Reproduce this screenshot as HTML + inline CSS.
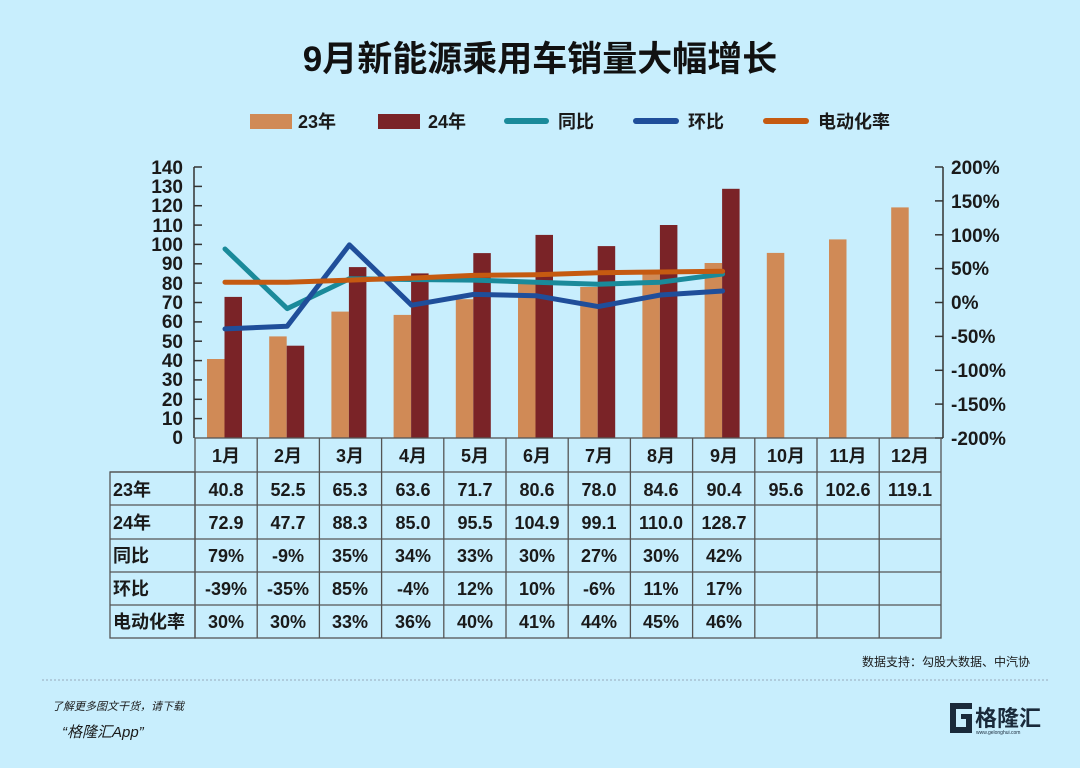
<!DOCTYPE html>
<html><head><meta charset="utf-8"><style>
html,body{margin:0;padding:0;background:#c8eefd;}
svg{display:block;}
text{font-family:"Liberation Sans","Noto Sans CJK SC",sans-serif;fill:#1a1a1a;}
.t{font-weight:bold;font-size:18px;}
</style></head><body>
<svg width="1080" height="768" viewBox="0 0 1080 768">
<rect width="1080" height="768" fill="#c8eefd"/>
<text x="540" y="71" text-anchor="middle" font-size="35" font-weight="bold" style="fill:#111">9月新能源乘用车销量大幅增长</text>
<rect x="250" y="114" width="42" height="15" fill="#d08a56"/><text x="298" y="128" class="t" font-size="19">23年</text>
<rect x="378" y="114" width="42" height="15" fill="#7a2327"/><text x="428" y="128" class="t" font-size="19">24年</text>
<line x1="507" y1="121" x2="546" y2="121" stroke="#1a8a9a" stroke-width="6" stroke-linecap="round"/><text x="558" y="128" class="t" font-size="19">同比</text>
<line x1="636" y1="121" x2="676" y2="121" stroke="#1f4e9a" stroke-width="6" stroke-linecap="round"/><text x="688" y="128" class="t" font-size="19">环比</text>
<line x1="766" y1="121" x2="806" y2="121" stroke="#c55a11" stroke-width="6" stroke-linecap="round"/><text x="818" y="128" class="t" font-size="19">电动化率</text>
<g fill="#d08a56">
<rect x="207" y="359" width="17.5" height="79"/><rect x="269.2" y="336.4" width="17.5" height="101.6"/><rect x="331.4" y="311.6" width="17.5" height="126.4"/><rect x="393.6" y="314.9" width="17.5" height="123.1"/><rect x="455.8" y="299.2" width="17.5" height="138.8"/><rect x="518" y="282" width="17.5" height="156"/><rect x="580.2" y="287" width="17.5" height="151"/><rect x="642.4" y="274.2" width="17.5" height="163.8"/><rect x="704.6" y="263" width="17.5" height="175"/><rect x="766.8" y="252.9" width="17.5" height="185.1"/><rect x="829" y="239.4" width="17.5" height="198.6"/><rect x="891.2" y="207.4" width="17.5" height="230.6"/>
</g>
<g fill="#7a2327">
<rect x="224.5" y="296.9" width="17.5" height="141.1"/><rect x="286.7" y="345.7" width="17.5" height="92.3"/><rect x="348.9" y="267.1" width="17.5" height="170.9"/><rect x="411.1" y="273.4" width="17.5" height="164.6"/><rect x="473.3" y="253.1" width="17.5" height="184.9"/><rect x="535.5" y="234.9" width="17.5" height="203.1"/><rect x="597.7" y="246.1" width="17.5" height="191.9"/><rect x="659.9" y="225" width="17.5" height="213"/><rect x="722.1" y="188.8" width="17.5" height="249.2"/>
</g>
<g fill="none" stroke-width="5" stroke-linejoin="round" stroke-linecap="round">
<polyline stroke="#1a8a9a" points="225,249 287.2,308.6 349.4,278.8 411.6,279.5 473.8,280.1 536,282.2 598.2,284.2 660.4,282.2 722.6,274"/>
<polyline stroke="#1f4e9a" points="225,328.9 287.2,326.2 349.4,244.9 411.6,305.2 473.8,294.4 536,295.7 598.2,306.6 660.4,295 722.6,291"/>
<polyline stroke="#c55a11" points="225,282.2 287.2,282.2 349.4,280.1 411.6,278.1 473.8,275.4 536,274.7 598.2,272.7 660.4,272 722.6,271.3"/>
</g>
<g stroke="#333" stroke-width="1.5">
<line x1="194" y1="167" x2="194" y2="438"/>
<line x1="194" y1="167" x2="202" y2="167"/><line x1="194" y1="186.4" x2="202" y2="186.4"/><line x1="194" y1="205.7" x2="202" y2="205.7"/><line x1="194" y1="225.1" x2="202" y2="225.1"/><line x1="194" y1="244.4" x2="202" y2="244.4"/><line x1="194" y1="263.8" x2="202" y2="263.8"/><line x1="194" y1="283.1" x2="202" y2="283.1"/><line x1="194" y1="302.5" x2="202" y2="302.5"/><line x1="194" y1="321.9" x2="202" y2="321.9"/><line x1="194" y1="341.2" x2="202" y2="341.2"/><line x1="194" y1="360.6" x2="202" y2="360.6"/><line x1="194" y1="379.9" x2="202" y2="379.9"/><line x1="194" y1="399.3" x2="202" y2="399.3"/><line x1="194" y1="418.6" x2="202" y2="418.6"/>
<line x1="943" y1="167" x2="943" y2="438"/>
<line x1="943" y1="167" x2="935" y2="167"/><line x1="943" y1="200.9" x2="935" y2="200.9"/><line x1="943" y1="234.8" x2="935" y2="234.8"/><line x1="943" y1="268.6" x2="935" y2="268.6"/><line x1="943" y1="302.5" x2="935" y2="302.5"/><line x1="943" y1="336.4" x2="935" y2="336.4"/><line x1="943" y1="370.3" x2="935" y2="370.3"/><line x1="943" y1="404.1" x2="935" y2="404.1"/><line x1="943" y1="438" x2="935" y2="438"/>
</g>
<g font-size="19" text-anchor="end" font-weight="bold">
<text x="183" y="174">140</text><text x="183" y="193">130</text><text x="183" y="212">120</text><text x="183" y="232">110</text><text x="183" y="251">100</text><text x="183" y="270">90</text><text x="183" y="290">80</text><text x="183" y="309">70</text><text x="183" y="328">60</text><text x="183" y="348">50</text><text x="183" y="367">40</text><text x="183" y="386">30</text><text x="183" y="406">20</text><text x="183" y="425">10</text><text x="183" y="444">0</text>
</g>
<g font-size="19" font-weight="bold">
<text x="951" y="174">200%</text><text x="951" y="208">150%</text><text x="951" y="242">100%</text><text x="951" y="275">50%</text><text x="951" y="309">0%</text><text x="951" y="343">-50%</text><text x="951" y="377">-100%</text><text x="951" y="411">-150%</text><text x="951" y="445">-200%</text>
</g>
<g stroke="#555" stroke-width="1.3" fill="none">
<rect x="195" y="438" width="746" height="200"/>
<rect x="110" y="472" width="85" height="166"/>
<line x1="110" y1="472" x2="941" y2="472"/><line x1="110" y1="505" x2="941" y2="505"/><line x1="110" y1="539" x2="941" y2="539"/><line x1="110" y1="572" x2="941" y2="572"/><line x1="110" y1="605" x2="941" y2="605"/>
<line x1="257.2" y1="438" x2="257.2" y2="638"/><line x1="319.4" y1="438" x2="319.4" y2="638"/><line x1="381.6" y1="438" x2="381.6" y2="638"/><line x1="443.8" y1="438" x2="443.8" y2="638"/><line x1="506" y1="438" x2="506" y2="638"/><line x1="568.2" y1="438" x2="568.2" y2="638"/><line x1="630.4" y1="438" x2="630.4" y2="638"/><line x1="692.6" y1="438" x2="692.6" y2="638"/><line x1="754.8" y1="438" x2="754.8" y2="638"/><line x1="817" y1="438" x2="817" y2="638"/><line x1="879.2" y1="438" x2="879.2" y2="638"/>
</g>
<g font-size="18" font-weight="bold">
<text x="113" y="496">23年</text><text x="113" y="529">24年</text><text x="113" y="562">同比</text><text x="113" y="595">环比</text><text x="113" y="628">电动化率</text>
</g>
<g font-size="18" text-anchor="middle" font-weight="bold">
<text x="226" y="462">1月</text><text x="288" y="462">2月</text><text x="350" y="462">3月</text><text x="413" y="462">4月</text><text x="475" y="462">5月</text><text x="537" y="462">6月</text><text x="599" y="462">7月</text><text x="661" y="462">8月</text><text x="724" y="462">9月</text><text x="786" y="462">10月</text><text x="848" y="462">11月</text><text x="910" y="462">12月</text>
<text x="226" y="496">40.8</text><text x="288" y="496">52.5</text><text x="350" y="496">65.3</text><text x="413" y="496">63.6</text><text x="475" y="496">71.7</text><text x="537" y="496">80.6</text><text x="599" y="496">78.0</text><text x="661" y="496">84.6</text><text x="724" y="496">90.4</text><text x="786" y="496">95.6</text><text x="848" y="496">102.6</text><text x="910" y="496">119.1</text>
<text x="226" y="529">72.9</text><text x="288" y="529">47.7</text><text x="350" y="529">88.3</text><text x="413" y="529">85.0</text><text x="475" y="529">95.5</text><text x="537" y="529">104.9</text><text x="599" y="529">99.1</text><text x="661" y="529">110.0</text><text x="724" y="529">128.7</text>
<text x="226" y="562">79%</text><text x="288" y="562">-9%</text><text x="350" y="562">35%</text><text x="413" y="562">34%</text><text x="475" y="562">33%</text><text x="537" y="562">30%</text><text x="599" y="562">27%</text><text x="661" y="562">30%</text><text x="724" y="562">42%</text>
<text x="226" y="595">-39%</text><text x="288" y="595">-35%</text><text x="350" y="595">85%</text><text x="413" y="595">-4%</text><text x="475" y="595">12%</text><text x="537" y="595">10%</text><text x="599" y="595">-6%</text><text x="661" y="595">11%</text><text x="724" y="595">17%</text>
<text x="226" y="628">30%</text><text x="288" y="628">30%</text><text x="350" y="628">33%</text><text x="413" y="628">36%</text><text x="475" y="628">40%</text><text x="537" y="628">41%</text><text x="599" y="628">44%</text><text x="661" y="628">45%</text><text x="724" y="628">46%</text>
</g>
<text x="1030" y="666" font-size="12" text-anchor="end">数据支持：勾股大数据、中汽协</text>
<line x1="42" y1="680" x2="1050" y2="680" stroke="#9ab" stroke-width="1" stroke-dasharray="2,2"/>
<text x="52" y="710" font-size="11" font-style="italic">了解更多图文干货，请下载</text>
<text x="62" y="737" font-size="15" font-style="italic">“格隆汇App”</text>
<path d="M950 703 h22 v6 h-16 v18 h10 v-8 h-5 v-5 h11 v19 h-22 z" fill="#1a2a3a"/>
<text x="975" y="726" font-size="22" font-weight="bold" style="fill:#1a2a3a">格隆汇</text>
<text x="976" y="734" font-size="5" style="fill:#1a2a3a">www.gelonghui.com</text>
</svg>
</body></html>
